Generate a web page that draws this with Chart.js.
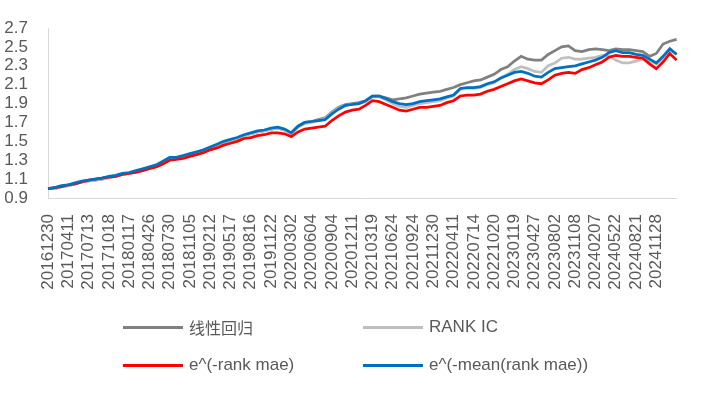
<!DOCTYPE html>
<html>
<head>
<meta charset="utf-8">
<script src="https://cdn.jsdelivr.net/npm/chart.js@4/dist/chart.umd.min.js"></script>
<style>
  html, body { margin: 0; padding: 0; background: #fff; }
  #wrap { position: relative; width: 705px; height: 393px; }
  #legend { position: absolute; left: 0; top: 0; width: 705px; height: 393px; pointer-events: none;
            font-family: "Liberation Sans", Arial, "Noto Sans CJK SC", sans-serif; font-size: 17px; color: #595959; }
  .item { position: absolute; display: flex; align-items: center; white-space: nowrap; }
  .item .swatch { width: 60px; height: 3px; margin-right: 6px; }
  .item .cjk { font-family: "Noto Sans CJK SC", sans-serif; font-size: 16px; }
</style>
</head>
<body>
<div id="wrap">
  <canvas id="chart"></canvas>
  <div id="legend"></div>
</div>
<script>
// x tick labels, one every 3 points
const tickLabels = [
  "20161230","20170411","20170713","20171018","20180117","20180426","20180730","20181105",
  "20190212","20190517","20190816","20191122","20200302","20200604","20200904","20201211",
  "20210319","20210624","20210924","20211230","20220411","20220714","20221020","20230119",
  "20230427","20230802","20231108","20240207","20240522","20240821","20241128"
];
const categories = tickLabels.flatMap(d => [d, "", ""]).concat([""]);

const seriesNames = ["线性回归", "RANK IC", "e^(-rank mae)", "e^(-mean(rank mae))"];
const seriesColors = ["#808080", "#bfbfbf", "#ff0000", "#0070c0"];

const linearReg = [
  1.00,1.00,1.02,1.03,1.05,1.07,1.08,1.09,1.10,1.12,
  1.13,1.15,1.16,1.18,1.20,1.22,1.24,1.28,1.32,1.33,
  1.34,1.36,1.38,1.40,1.43,1.46,1.49,1.51,1.53,1.56,
  1.58,1.60,1.61,1.63,1.64,1.62,1.59,1.66,1.70,1.71,
  1.73,1.75,1.81,1.86,1.89,1.90,1.91,1.93,1.98,1.98,
  1.96,1.94,1.95,1.96,1.98,2.00,2.01,2.02,2.03,2.05,
  2.07,2.10,2.12,2.14,2.15,2.18,2.21,2.26,2.29,2.35,
  2.40,2.37,2.36,2.36,2.42,2.46,2.50,2.51,2.46,2.45,
  2.47,2.48,2.47,2.46,2.48,2.47,2.47,2.46,2.45,2.40,
  2.43,2.53,2.56,2.58
];
const rankIC = [
  1.00,1.00,1.02,1.03,1.05,1.07,1.08,1.09,1.10,1.11,
  1.13,1.15,1.16,1.18,1.20,1.22,1.24,1.28,1.32,1.32,
  1.34,1.36,1.38,1.40,1.43,1.46,1.49,1.51,1.53,1.56,
  1.58,1.60,1.61,1.63,1.64,1.62,1.58,1.65,1.69,1.70,
  1.72,1.74,1.80,1.85,1.88,1.89,1.90,1.92,1.97,1.97,
  1.94,1.90,1.87,1.86,1.88,1.90,1.91,1.92,1.93,1.96,
  1.98,2.05,2.06,2.06,2.07,2.10,2.12,2.17,2.21,2.26,
  2.29,2.27,2.24,2.23,2.30,2.33,2.38,2.39,2.37,2.37,
  2.38,2.39,2.41,2.40,2.36,2.33,2.33,2.35,2.37,2.35,
  2.32,2.38,2.46,2.43
];
const rankMae = [
  1.00,1.01,1.02,1.04,1.05,1.07,1.09,1.10,1.11,1.12,
  1.13,1.15,1.16,1.17,1.19,1.21,1.23,1.26,1.30,1.31,
  1.32,1.34,1.36,1.38,1.41,1.43,1.46,1.48,1.50,1.53,
  1.54,1.56,1.57,1.59,1.59,1.58,1.55,1.60,1.63,1.64,
  1.65,1.66,1.72,1.77,1.81,1.83,1.84,1.88,1.93,1.92,
  1.89,1.86,1.83,1.82,1.84,1.86,1.86,1.87,1.88,1.91,
  1.93,1.98,1.99,1.99,2.00,2.03,2.05,2.08,2.11,2.14,
  2.16,2.14,2.12,2.11,2.15,2.20,2.22,2.23,2.22,2.26,
  2.28,2.31,2.34,2.39,2.41,2.40,2.40,2.39,2.38,2.32,
  2.27,2.34,2.43,2.36
];
const meanRankMae = [
  1.00,1.01,1.03,1.04,1.06,1.08,1.09,1.10,1.11,1.13,
  1.14,1.16,1.17,1.19,1.21,1.23,1.25,1.29,1.33,1.33,
  1.35,1.37,1.39,1.41,1.44,1.47,1.50,1.52,1.54,1.57,
  1.59,1.61,1.62,1.64,1.65,1.63,1.59,1.66,1.70,1.71,
  1.72,1.73,1.79,1.84,1.88,1.89,1.90,1.93,1.98,1.98,
  1.95,1.92,1.90,1.89,1.90,1.92,1.93,1.94,1.95,1.97,
  1.99,2.06,2.07,2.07,2.08,2.11,2.13,2.17,2.20,2.23,
  2.24,2.22,2.19,2.18,2.23,2.27,2.28,2.29,2.30,2.32,
  2.34,2.36,2.39,2.44,2.46,2.44,2.44,2.42,2.41,2.37,
  2.33,2.40,2.48,2.42
];
const seriesData = [linearReg, rankIC, rankMae, meanRankMae];
const drawOrder = [3, 2, 1, 0]; // blue on top

const yTicks = { min: 0.9, max: 2.7, step: 0.2 };

const canvas = document.getElementById("chart");
canvas.width = 705; canvas.height = 393;

new Chart(canvas, {
  type: "line",
  data: {
    labels: categories,
    datasets: seriesNames.map((name, i) => ({
      label: name,
      data: seriesData[i],
      borderColor: seriesColors[i],
      backgroundColor: seriesColors[i],
      borderWidth: 2.75,
      pointRadius: 0,
      tension: 0,
      fill: false,
      order: drawOrder[i]
    }))
  },
  options: {
    responsive: false,
    animation: false,
    layout: { padding: { top: 28, right: 15, left: 0, bottom: 0 } },
    plugins: { legend: { display: false }, tooltip: { enabled: false } },
    scales: {
      x: {
        grid: { display: false },
        border: { display: true, color: "#d9d9d9", width: 1 },
        afterFit: s => { s.height = 195; },
        ticks: {
          autoSkip: false, maxRotation: 90, minRotation: 90, padding: 8,
          color: "#595959", font: { family: "'Liberation Sans', Arial", size: 17 },
          callback: (v, i) => (i % 3 === 0 ? categories[i] : null)
        }
      },
      y: {
        min: yTicks.min, max: yTicks.max,
        grid: { display: false },
        border: { display: true, color: "#d9d9d9", width: 1 },
        afterFit: s => { s.width = 48; },
        ticks: {
          stepSize: yTicks.step, autoSkip: false, padding: 12,
          color: "#595959", font: { family: "'Liberation Sans', Arial", size: 17 },
          callback: v => v.toFixed(1)
        }
      }
    }
  }
});

// legend in two columns below the plot
const legendPos = [[123, 327], [363, 327], [123, 365], [363, 365]];
const legend = document.getElementById("legend");
seriesNames.forEach((name, i) => {
  const el = document.createElement("div");
  el.className = "item";
  el.style.left = legendPos[i][0] + "px";
  el.style.top = (legendPos[i][1] - 10) + "px";
  el.style.height = "20px";
  el.innerHTML = `<span class="swatch" style="background:${seriesColors[i]}"></span>` +
    `<span class="${i === 0 ? "cjk" : ""}">${name}</span>`;
  legend.appendChild(el);
});
</script>
</body>
</html>
